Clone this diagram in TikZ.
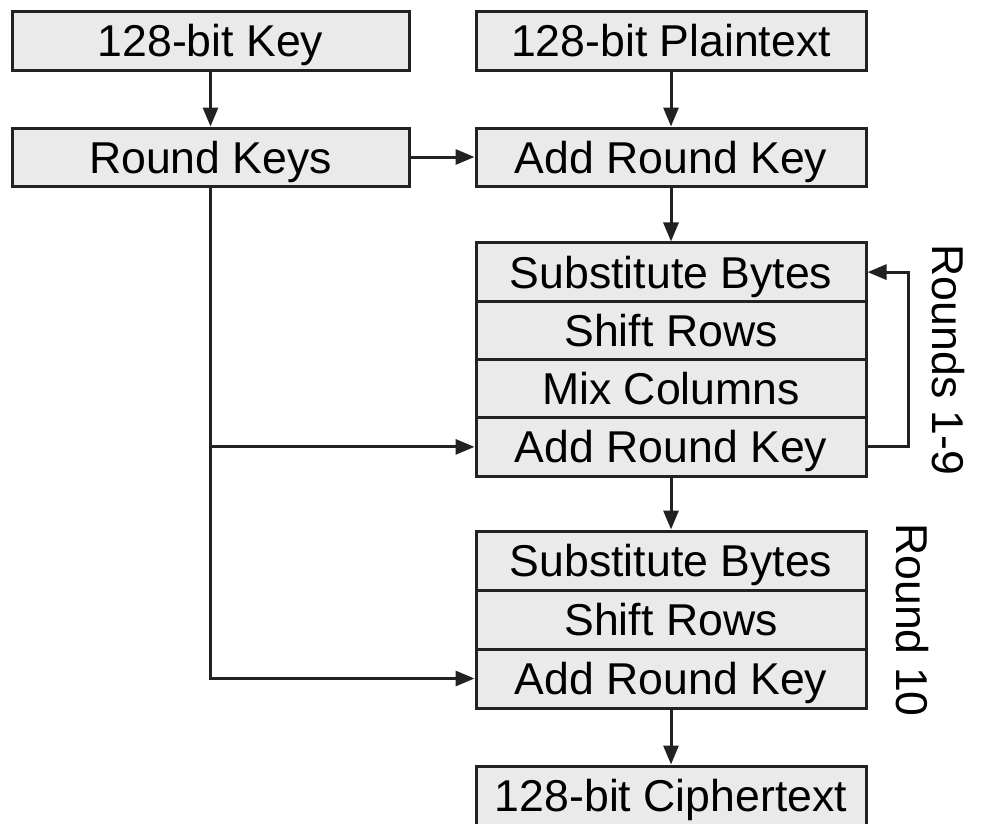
\documentclass[tikz,border=0pt]{standalone}
\usepackage{fontspec}
\setmainfont{Liberation Sans}
\usetikzlibrary{arrows.meta}
\definecolor{boxgray}{RGB}{234,234,234}
\definecolor{inkgray}{RGB}{34,34,34}
\begin{document}
\begin{tikzpicture}[x=1pt,y=-1pt,
  stagebox/.style={draw=inkgray, fill=boxgray, line width=3pt, inner sep=0pt,
    minimum height=#1, text height=32pt, text depth=0pt,
    font=\fontsize{44.6}{50}\selectfont},
  stagebox/.default=58.25pt,
  wideL/.style={minimum width=397pt},
  wideR/.style={minimum width=390pt},
  flow/.style={draw=inkgray, line width=3pt,
    -{Triangle[length=19pt,width=15pt]}},
  plainline/.style={draw=inkgray, line width=3pt},
  sidelabel/.style={rotate=-90, inner sep=0pt, text height=32pt, text depth=0pt,
    font=\fontsize{44.6}{50}\selectfont}]
\useasboundingbox (0,0) rectangle (982,823);

% key schedule column
\node[stagebox=59pt, wideL] (key) at (210.5,40.5) {128-bit Key};
\node[stagebox=58pt, wideL] (rk)  at (210.5,157) {Round Keys};

% data path column
\node[stagebox=59pt, wideR] (plain) at (671,40.5) {128-bit Plaintext};
\node[stagebox=58pt, wideR] (ark0)  at (671,157) {Add Round Key};

% rounds 1-9
\node[stagebox, wideR] (sb1)  at (671,272.1) {Substitute Bytes};
\node[stagebox, wideR] (sr1)  at (671,330.4) {Shift Rows};
\node[stagebox, wideR] (mc1)  at (671,388.6) {Mix Columns};
\node[stagebox, wideR] (ark1) at (671,446.9) {Add Round Key};

% round 10
\node[stagebox=59pt, wideR] (sb2)  at (671,560.5) {Substitute Bytes};
\node[stagebox=59pt, wideR] (sr2)  at (671,619.5) {Shift Rows};
\node[stagebox=59pt, wideR] (ark2) at (671,678.5) {Add Round Key};

% output
\node[stagebox=59pt, wideR] (cipher) at (671,795.5) {128-bit Ciphertext};

% side labels
\node[sidelabel] (lab19) at (948,360) {Rounds 1-9};
\node[sidelabel] (lab10) at (912,620) {Round 10};

% connectors
\draw[flow] (key.south) -- (rk.north);
\draw[flow] (plain.south) -- (ark0.north);
\draw[flow] (rk.east) -- (ark0.west);
\draw[flow] (ark0.south) -- (sb1.north);
\draw[flow] (ark1.south) -- (sb2.north);
\draw[flow] (ark2.south) -- (cipher.north);

% round keys distribution
\coordinate (tap) at (rk.south |- ark1.west);
\draw[plainline] (rk.south) -- (tap);
\draw[flow] (tap) -- (ark1.west);
\draw[flow] (rk.south) |- (ark2.west);

% loop back for rounds 1-9
\coordinate (loopR) at ([xshift=41pt]ark1.east);
\draw[flow] (ark1.east) -- (loopR) |- (sb1.east);
\end{tikzpicture}
\end{document}
